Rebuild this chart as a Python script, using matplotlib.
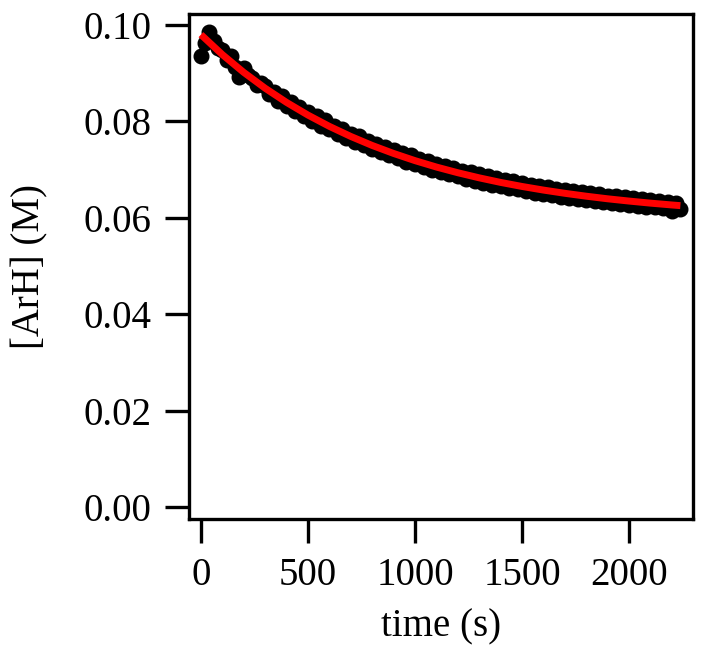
import numpy as np
import matplotlib
matplotlib.use("Agg")
import matplotlib.pyplot as plt

plt.rcParams['font.family'] = ['Liberation Serif', 'DejaVu Serif']

# measured points, one every 20 s
time_s = [0, 20, 40, 60, 80, 100, 120, 140, 160, 180, 200, 220, 240, 260, 280,
          300, 320, 340, 360, 380, 400, 420, 440, 460, 480, 500, 520, 540, 560,
          580, 600, 620, 640, 660, 680, 700, 720, 740, 760, 780, 800, 820, 840,
          860, 880, 900, 920, 940, 960, 980, 1000, 1020, 1040, 1060, 1080, 1100,
          1120, 1140, 1160, 1180, 1200, 1220, 1240, 1260, 1280, 1300, 1320, 1340,
          1360, 1380, 1400, 1420, 1440, 1460, 1480, 1500, 1520, 1540, 1560, 1580,
          1600, 1620, 1640, 1660, 1680, 1700, 1720, 1740, 1760, 1780, 1800, 1820,
          1840, 1860, 1880, 1900, 1920, 1940, 1960, 1980, 2000, 2020, 2040, 2060,
          2080, 2100, 2120, 2140, 2160, 2180, 2200, 2220, 2240]
arh = [0.0936, 0.0962, 0.0986, 0.0966, 0.0952, 0.0948, 0.0928, 0.0935, 0.0912,
       0.0892, 0.0910, 0.0897, 0.0891, 0.0875, 0.0880, 0.0874, 0.0856, 0.0862,
       0.0843, 0.0852, 0.0832, 0.0841, 0.0822, 0.0830, 0.0812, 0.0820, 0.0801,
       0.0811, 0.0791, 0.0802, 0.0784, 0.0791, 0.0774, 0.0785, 0.0766, 0.0774,
       0.0758, 0.0770, 0.0751, 0.0760, 0.0743, 0.0754, 0.0736, 0.0747, 0.0730,
       0.0741, 0.0724, 0.0734, 0.0716, 0.0730, 0.0711, 0.0722, 0.0706, 0.0718,
       0.0700, 0.0712, 0.0695, 0.0707, 0.0690, 0.0703, 0.0686, 0.0697, 0.0681,
       0.0694, 0.0677, 0.0690, 0.0673, 0.0686, 0.0669, 0.0683, 0.0666, 0.0679,
       0.0662, 0.0676, 0.0659, 0.0672, 0.0656, 0.0668, 0.0652, 0.0666, 0.0650,
       0.0663, 0.0647, 0.0660, 0.0644, 0.0658, 0.0642, 0.0655, 0.0640, 0.0654,
       0.0637, 0.0651, 0.0635, 0.0649, 0.0633, 0.0646, 0.0631, 0.0645, 0.0629,
       0.0643, 0.0627, 0.0641, 0.0625, 0.0639, 0.0623, 0.0637, 0.0622, 0.0635,
       0.0620, 0.0633, 0.0614, 0.0630, 0.0618]

# fitted curve
fit_t = [0, 100, 200, 300, 400, 500, 600, 700, 800, 900, 1000, 1100, 1200,
         1300, 1400, 1500, 1600, 1700, 1800, 1900, 2000, 2100, 2200, 2240]
fit_y = [0.0980, 0.09386, 0.09017, 0.08688, 0.08394, 0.08131, 0.07897,
         0.07688, 0.07501, 0.07335, 0.07186, 0.07053, 0.06935, 0.06829,
         0.06734, 0.06650, 0.06575, 0.06508, 0.06448, 0.06394, 0.06347,
         0.06304, 0.06266, 0.06252]

fig = plt.figure(figsize=(7.05, 6.56), dpi=100)
ax = fig.add_axes([0.268, 0.2088, 0.715, 0.770])

ax.plot(time_s, arh, 'o', color='black', markersize=10.5, zorder=2)
ax.plot(fit_t, fit_y, color='red', linewidth=5, solid_capstyle='butt', zorder=3)

ax.set_xlim(-56, 2299)
ax.set_ylim(-0.0025, 0.1023)
ax.set_xticks([0, 500, 1000, 1500, 2000])
ax.set_yticks([0.00, 0.02, 0.04, 0.06, 0.08, 0.10])
ax.set_yticklabels(["0.00", "0.02", "0.04", "0.06", "0.08", "0.10"])

for s in ax.spines.values():
    s.set_linewidth(2.4)
ax.tick_params(direction='out', length=17, width=2.4, labelsize=28, pad=10)

ax.set_xlabel("time (s)", fontsize=28, labelpad=11)
ax.set_ylabel("[ArH] (M)", fontsize=28, labelpad=25)

fig.savefig("out.png", dpi=100)
